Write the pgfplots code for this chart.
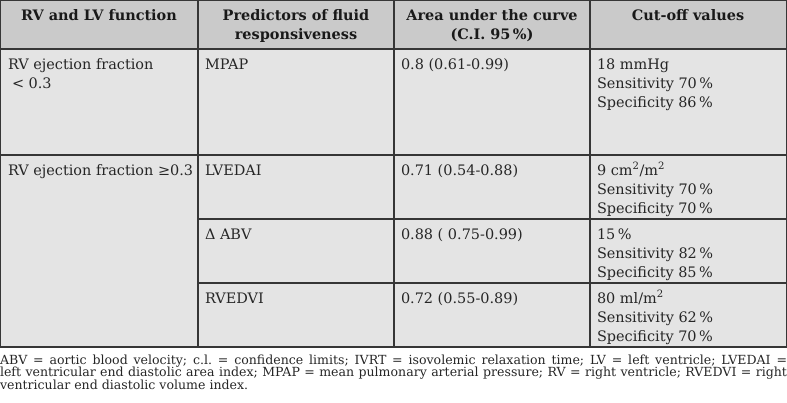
\documentclass[border=0pt]{standalone}
\usepackage{fontspec}
\setmainfont{DejaVu Serif}
\usepackage{pgfplots}
\pgfplotsset{compat=1.18}

\definecolor{headbg}{HTML}{CACACA}
\definecolor{bodybg}{HTML}{E4E4E4}
\definecolor{rulec}{HTML}{363636}

\newcommand{\bodyf}{\fontsize{14.5}{19}\selectfont}
\newcommand{\notef}{\fontsize{12.6}{12.7}\selectfont\frenchspacing}

\tikzset{
    hd/.style={anchor=base, inner sep=0pt, outer sep=0pt, text=black!90, font=\bodyf\bfseries},
    tx/.style={anchor=base west, inner sep=0pt, outer sep=0pt, text=black!85, font=\bodyf},
    nt/.style={anchor=base west, inner sep=0pt, outer sep=0pt, text=black!85, font=\notef},
}

\begin{document}
\begin{tikzpicture}
\begin{axis}[
    name=tab,
    width=787bp, height=403bp,
    scale only axis,
    xmin=0, xmax=787,
    ymin=0, ymax=403,
    y dir=reverse,
    hide axis,
    clip=false,
]
% cell backgrounds
\addplot[fill=headbg, draw=none] coordinates {(0,0) (787,0) (787,49) (0,49)} -- cycle;
\addplot[fill=bodybg, draw=none] coordinates {(0,49) (787,49) (787,347) (0,347)} -- cycle;

% rules
\addplot[rulec, line width=1.3bp] coordinates {(0,0.7) (787,0.7)};
\addplot[rulec, line width=1.3bp] coordinates {(0,49) (787,49)};
\addplot[rulec, line width=1.3bp] coordinates {(0,155) (787,155)};
\addplot[rulec, line width=1.3bp] coordinates {(198,219) (787,219)};
\addplot[rulec, line width=1.3bp] coordinates {(198,283) (787,283)};
\addplot[rulec, line width=1.3bp] coordinates {(0,347) (787,347)};
\addplot[rulec, line width=1.3bp] coordinates {(0.7,0) (0.7,347)};
\addplot[rulec, line width=1.3bp] coordinates {(198,0) (198,347)};
\addplot[rulec, line width=1.3bp] coordinates {(394,0) (394,347)};
\addplot[rulec, line width=1.3bp] coordinates {(590,0) (590,347)};
\addplot[rulec, line width=1.3bp] coordinates {(786.3,0) (786.3,347)};

% header
\node[hd] at (axis cs:99,21) {RV and LV function};
\node[hd] at (axis cs:296,21) {Predictors of fluid};
\node[hd] at (axis cs:296,39) {responsiveness};
\node[hd] at (axis cs:492,21) {Area under the curve};
\node[hd] at (axis cs:492,39) {(C.I. 95\,\%)};
\node[hd] at (axis cs:688,21) {Cut-off values};

% column 1
\node[tx] at (axis cs:8,69) {RV ejection fraction};
\node[tx] at (axis cs:12,88) {< 0.3};
\node[tx] at (axis cs:8,175) {RV ejection fraction ≥0.3};

% column 2
\node[tx] at (axis cs:205,69) {MPAP};
\node[tx] at (axis cs:205,175) {LVEDAI};
\node[tx] at (axis cs:205,239) {Δ ABV};
\node[tx] at (axis cs:205,303) {RVEDVI};

% column 3
\node[tx] at (axis cs:401,69) {0.8 (0.61-0.99)};
\node[tx] at (axis cs:401,175) {0.71 (0.54-0.88)};
\node[tx] at (axis cs:401,239) {0.88 ( 0.75-0.99)};
\node[tx] at (axis cs:401,303) {0.72 (0.55-0.89)};

% column 4
\node[tx] at (axis cs:597,69) {18 mmHg};
\node[tx] at (axis cs:597,88) {Sensitivity 70\,\%};
\node[tx] at (axis cs:597,107) {Specificity 86\,\%};
\node[tx] at (axis cs:597,175) {9 cm\textsuperscript{2}/m\textsuperscript{2}};
\node[tx] at (axis cs:597,194) {Sensitivity 70\,\%};
\node[tx] at (axis cs:597,213) {Specificity 70\,\%};
\node[tx] at (axis cs:597,239) {15\,\%};
\node[tx] at (axis cs:597,258) {Sensitivity 82\,\%};
\node[tx] at (axis cs:597,277) {Specificity 85\,\%};
\node[tx] at (axis cs:597,303) {80 ml/m\textsuperscript{2}};
\node[tx] at (axis cs:597,322) {Sensitivity 62\,\%};
\node[tx] at (axis cs:597,341) {Specificity 70\,\%};

% footnote
\node[nt] at (axis cs:0,364) {\makebox[787bp][s]{ABV = aortic blood velocity; c.l. = confidence limits; IVRT = isovolemic relaxation time; LV = left ventricle; LVEDAI =}};
\node[nt] at (axis cs:0,376.7) {\makebox[787bp][s]{left ventricular end diastolic area index; MPAP = mean pulmonary arterial pressure; RV = right ventricle; RVEDVI = right}};
\node[nt] at (axis cs:0,389.4) {ventricular end diastolic volume index.};
\end{axis}
\pgfresetboundingbox
\path[use as bounding box] (tab.south west) rectangle (tab.north east);
\end{tikzpicture}
\end{document}
